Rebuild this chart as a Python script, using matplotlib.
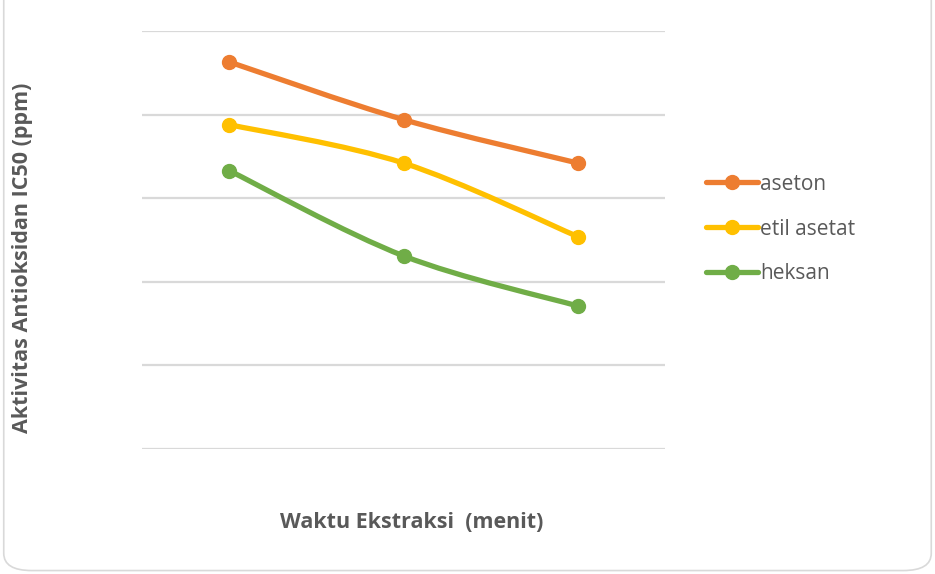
import matplotlib.pyplot as plt
from matplotlib.path import Path
from matplotlib.patches import PathPatch, FancyBboxPatch
from matplotlib.lines import Line2D

waktu = ["1", "2", "3"]
aseton = [4.63, 3.94, 3.42]
etil_asetat = [3.88, 3.42, 2.54]
heksan = [3.33, 2.31, 1.71]

series = [("aseton", aseton, "#ED7D31"),
          ("etil asetat", etil_asetat, "#FFC000"),
          ("heksan", heksan, "#70AD47")]

abu = "#595959"


def smooth_path(xs, ys, t=1 / 6):
    # kurva halus gaya Excel (Catmull-Rom -> Bezier)
    verts = [(xs[0], ys[0])]
    codes = [Path.MOVETO]
    n = len(xs)
    for i in range(n - 1):
        x0, y0 = (xs[i - 1], ys[i - 1]) if i > 0 else (xs[i], ys[i])
        x1, y1 = xs[i], ys[i]
        x2, y2 = xs[i + 1], ys[i + 1]
        x3, y3 = (xs[i + 2], ys[i + 2]) if i + 2 < n else (x2, y2)
        c1 = (x1 + (x2 - x0) * t, y1 + (y2 - y0) * t)
        c2 = (x2 - (x3 - x1) * t, y2 - (y3 - y1) * t)
        verts += [c1, c2, (x2, y2)]
        codes += [Path.CURVE4] * 3
    return Path(verts, codes)


fig = plt.figure(figsize=(9.35, 5.74), dpi=100)
fig.patches.append(FancyBboxPatch((0.004, 0.006), 0.992, 1.1,
                                  boxstyle="round,pad=0,rounding_size=0.03",
                                  transform=fig.transFigure, facecolor="white",
                                  edgecolor="#D9D9D9", linewidth=1.2, zorder=-1))
ax = fig.add_axes([0.1519, 0.2178, 0.5594, 0.7282])
ax.set_facecolor("none")

x = list(range(len(waktu)))
handles = []
for nama, nilai, warna in series:
    ax.add_patch(PathPatch(smooth_path(x, nilai), facecolor="none", edgecolor=warna,
                           linewidth=3.8, capstyle="round", zorder=3))
    ax.plot(x, nilai, linestyle="none", marker="o", markersize=10,
            color=warna, zorder=4)
    handles.append(Line2D([], [], color=warna, linewidth=3.8, marker="o",
                          markersize=10, solid_capstyle="round"))

ax.set_xlim(-0.5, 2.5)
ax.set_ylim(0, 5)
ax.set_yticks(range(6))
ax.set_xticks([])
ax.tick_params(left=False, labelleft=False)
ax.grid(axis="y", color="#D9D9D9", linewidth=1.6)
for s in ax.spines.values():
    s.set_visible(False)

fig.text(0.024, 0.551, "Aktivitas Antioksidan IC50 (ppm)", rotation=90,
         ha="center", va="center", fontsize=15.5, fontweight="bold",
         color=abu, family="Open Sans")
fig.text(0.44, 0.089, "Waktu Ekstraksi  (menit)", ha="center", va="center",
         fontsize=15.5, fontweight="bold", color=abu, family="Open Sans")

fig.legend(handles, [s[0] for s in series], loc="center left",
           bbox_to_anchor=(0.735, 0.601), frameon=False,
           labelcolor=abu, handlelength=2.5, handletextpad=0.1,
           labelspacing=1.15, prop={"family": "Open Sans", "size": 15})

fig.savefig("out.png", dpi=100)
